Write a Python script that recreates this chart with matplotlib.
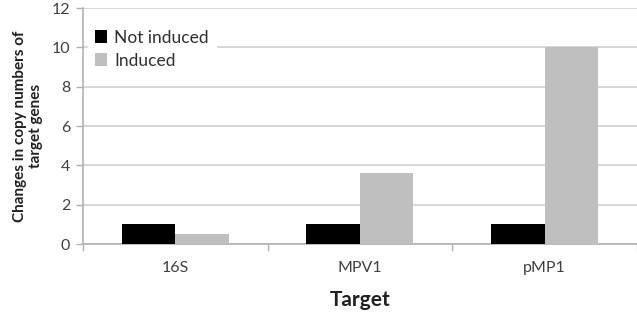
import matplotlib
matplotlib.use('Agg')
import matplotlib.pyplot as plt
import numpy as np

# copy number changes per target
targets = ['16S', 'MPV1', 'pMP1']
not_induced = [1.0, 1.0, 1.0]
induced = [0.5, 3.6, 10.0]
y_ticks = [0, 2, 4, 6, 8, 10, 12]

plt.rcParams['font.family'] = ['Lato', 'DejaVu Sans']

fig = plt.figure(figsize=(6.37, 3.20), dpi=100)
ax = fig.add_axes([0.130, 0.2375, 0.870, 0.7375])

x = np.arange(len(targets))
w = 0.29
ax.bar(x - w / 2, not_induced, w, color='black', label='Not induced', zorder=3)
ax.bar(x + w / 2, induced, w, color='#bfbfbf', label='Induced', zorder=3)

ax.set_xlim(-0.5, len(targets) - 0.5)
ax.set_ylim(0, 12)
ax.set_yticks(y_ticks)
ax.yaxis.grid(True, color='#d0d0d0', linewidth=1.2, zorder=0)
ax.set_axisbelow(True)

# category labels centred, tick marks between categories
ax.set_xticks(x)
ax.set_xticklabels(targets, fontsize=11.5, color='#404040')
ax.tick_params(axis='x', length=0, pad=12)
ax.set_xticks(np.arange(-0.5, len(targets)), minor=True)
ax.tick_params(axis='x', which='minor', length=5, color='#b0b0b0', width=1)
ax.tick_params(axis='y', length=5, color='#b0b0b0', width=1, labelsize=11.5,
               labelcolor='#404040', pad=4)

for side in ['top', 'right']:
    ax.spines[side].set_visible(False)
for side in ['left', 'bottom']:
    ax.spines[side].set_color('#b0b0b0')
    ax.spines[side].set_linewidth(1.2)

ax.set_xlabel('Target', fontsize=15, fontweight='bold', color='#202020', labelpad=11)
ax.set_ylabel('Changes in copy numbers of\ntarget genes', fontsize=11,
              fontweight='bold', color='#202020', labelpad=6, linespacing=1.25)

leg = ax.legend(loc='upper left', bbox_to_anchor=(0.0, 0.96), frameon=True,
                fontsize=12.5, handlelength=0.7, handleheight=0.7,
                handletextpad=0.4, labelspacing=0.4, borderaxespad=0.3,
                fancybox=False, edgecolor='white', framealpha=1)
for t in leg.get_texts():
    t.set_color('#303030')

plt.savefig('out.png', dpi=100)
plt.close()
